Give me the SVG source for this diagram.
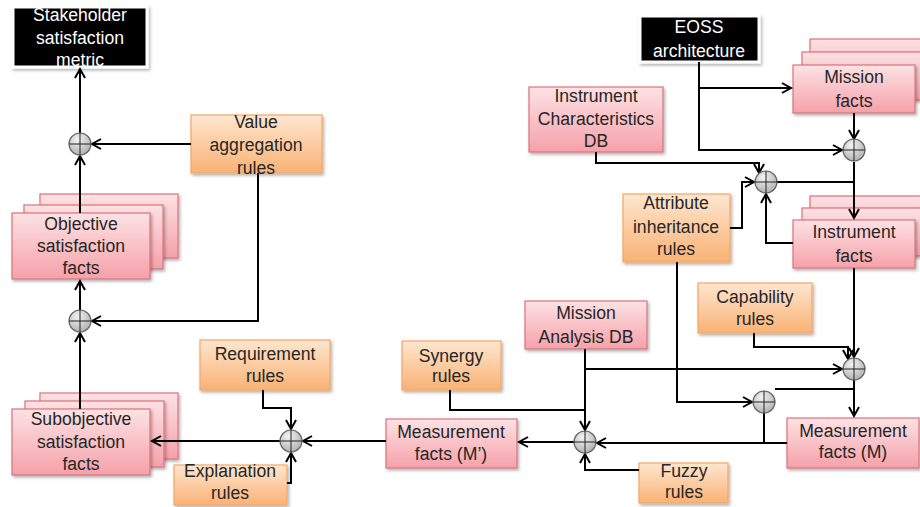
<svg xmlns="http://www.w3.org/2000/svg" width="920" height="507" viewBox="0 0 920 507">
<defs>
<linearGradient id="gp" x1="0" y1="0" x2="0" y2="1"><stop offset="0" stop-color="#fde2e4"/><stop offset="1" stop-color="#f5a1a9"/></linearGradient>
<linearGradient id="go" x1="0" y1="0" x2="0" y2="1"><stop offset="0" stop-color="#fee6cf"/><stop offset="1" stop-color="#f9b275"/></linearGradient>
<radialGradient id="gc" cx="0.4" cy="0.3" r="0.8"><stop offset="0" stop-color="#f4f4f4"/><stop offset="1" stop-color="#a8a8a8"/></radialGradient>
<filter id="sh" x="-10%" y="-10%" width="125%" height="135%"><feDropShadow dx="1.5" dy="2" stdDeviation="1.5" flood-color="#000" flood-opacity="0.3"/></filter>
<marker id="ar" markerUnits="userSpaceOnUse" markerWidth="14" markerHeight="14" refX="10" refY="6" orient="auto"><path d="M1,1 L10,6 L1,11" fill="none" stroke="#000" stroke-width="2"/></marker>
</defs>
<style>
.pk{fill:url(#gp);stroke:#d9737c;stroke-width:1.2;filter:url(#sh)}
.or{fill:url(#go);stroke:#f3a766;stroke-width:1.2;filter:url(#sh)}
.bk{fill:#000;stroke:#fff;stroke-width:3;filter:url(#sh)}
.t{font-family:"Liberation Sans",Arial,sans-serif;font-size:17.6px;fill:#262626;text-anchor:middle}
.w{fill:#fff}
.c circle{fill:url(#gc);stroke:#666;stroke-width:1.2}
.c path{stroke:#222;stroke-width:1;fill:none}
#connectors path{fill:none;stroke:#000;stroke-width:2}
.a{marker-end:url(#ar)}
</style>

<g id="stakeholder">
<rect class="bk" x="13" y="7" width="134" height="60"/>
<text class="t w" x="80" y="21">Stakeholder</text>
<text class="t w" x="80" y="44">satisfaction</text>
<text class="t w" x="80" y="66">metric</text>
</g>
<g id="value-rules">
<rect class="or" x="191" y="115" width="131" height="58"/>
<text class="t" x="256" y="128">Value</text>
<text class="t" x="256" y="151">aggregation</text>
<text class="t" x="256" y="174">rules</text>
</g>
<g id="objective">
<rect class="pk" x="40" y="194" width="138" height="64"/>
<rect class="pk" x="24" y="205" width="139" height="64"/>
<rect class="pk" x="12" y="213" width="138" height="66"/>
<text class="t" x="81" y="230">Objective</text>
<text class="t" x="81" y="252">satisfaction</text>
<text class="t" x="81" y="274">facts</text>
</g>
<g id="subobjective">
<rect class="pk" x="40" y="393" width="138" height="66"/>
<rect class="pk" x="25" y="401" width="139" height="66"/>
<rect class="pk" x="12" y="409" width="138" height="66"/>
<text class="t" x="81" y="425">Subobjective</text>
<text class="t" x="81" y="448">satisfaction</text>
<text class="t" x="81" y="470">facts</text>
</g>
<g id="requirement-rules">
<rect class="or" x="200" y="340" width="130" height="50"/>
<text class="t" x="265" y="360">Requirement</text>
<text class="t" x="265" y="382">rules</text>
</g>
<g id="explanation-rules">
<rect class="or" x="174" y="465" width="113" height="40"/>
<text class="t" x="230" y="477">Explanation</text>
<text class="t" x="230" y="499">rules</text>
</g>
<g id="measurement-mp">
<rect class="pk" x="386" y="419" width="131" height="49"/>
<text class="t" x="451" y="438">Measurement</text>
<text class="t" x="451" y="460">facts (M’)</text>
</g>
<g id="synergy-rules">
<rect class="or" x="402" y="341" width="99" height="49"/>
<text class="t" x="451" y="362">Synergy</text>
<text class="t" x="451" y="382">rules</text>
</g>
<g id="mission-analysis-db">
<rect class="pk" x="525" y="301" width="122" height="48"/>
<text class="t" x="586" y="319">Mission</text>
<text class="t" x="586" y="343">Analysis DB</text>
</g>
<g id="fuzzy-rules">
<rect class="or" x="639" y="463" width="89" height="40"/>
<text class="t" x="684" y="477">Fuzzy</text>
<text class="t" x="684" y="498">rules</text>
</g>
<g id="measurement-m">
<rect class="pk" x="787" y="418" width="132" height="50"/>
<text class="t" x="853" y="437">Measurement</text>
<text class="t" x="853" y="458">facts (M)</text>
</g>
<g id="capability-rules">
<rect class="or" x="698" y="283" width="114" height="50"/>
<text class="t" x="755" y="303">Capability</text>
<text class="t" x="755" y="325">rules</text>
</g>
<g id="attribute-rules">
<rect class="or" x="623" y="194" width="107" height="68"/>
<text class="t" x="676" y="209">Attribute</text>
<text class="t" x="676" y="233">inheritance</text>
<text class="t" x="676" y="255">rules</text>
</g>
<g id="instrument-facts">
<rect class="pk" x="810" y="196" width="130" height="48"/>
<rect class="pk" x="802" y="208" width="130" height="48"/>
<rect class="pk" x="793" y="220" width="122" height="48"/>
<text class="t" x="854" y="238">Instrument</text>
<text class="t" x="854" y="262">facts</text>
</g>
<g id="mission-facts">
<rect class="pk" x="810" y="39" width="130" height="48"/>
<rect class="pk" x="802" y="52" width="130" height="48"/>
<rect class="pk" x="793" y="65" width="122" height="48"/>
<text class="t" x="854" y="83">Mission</text>
<text class="t" x="854" y="107">facts</text>
</g>
<g id="eoss">
<rect class="bk" x="640" y="16" width="119" height="46"/>
<text class="t w" x="699" y="33">EOSS</text>
<text class="t w" x="699" y="57">architecture</text>
</g>
<g id="instrument-db">
<rect class="pk" x="529" y="87" width="134" height="65"/>
<text class="t" x="596" y="102">Instrument</text>
<text class="t" x="596" y="125">Characteristics</text>
<text class="t" x="596" y="147">DB</text>
</g>

<g id="connectors">
<path class="a" d="M80,133 L80,69"/>
<path class="a" d="M191,144 L92,144"/>
<path class="a" d="M258,173 L258,321 L92,321"/>
<path class="a" d="M80,213 L80,156"/>
<path class="a" d="M80,310 L80,281"/>
<path class="a" d="M80,409 L80,333"/>
<path class="a" d="M280,441 L152,441"/>
<path class="a" d="M263,390 L263,408 L291,408 L291,429"/>
<path class="a" d="M287,483 L291,483 L291,453"/>
<path class="a" d="M386,441 L303,441"/>
<path class="a" d="M574,442 L519,442"/>
<path class="a" d="M585,349 L585,430"/>
<path d="M450,390 L450,410 L585,410"/>
<path class="a" d="M639,470 L585,470 L585,454"/>
<path class="a" d="M787,443 L597,443"/>
<path d="M764,443 L764,413"/>
<path class="a" d="M677,262 L677,402 L752,402"/>
<path d="M775,389 L854,389"/>
<path class="a" d="M585,369 L842,369"/>
<path class="a" d="M754,333 L754,347 L848,347 L848,359"/>
<path class="a" d="M854,268 L854,357"/>
<path class="a" d="M854,380 L854,416"/>
<path class="a" d="M699,62 L699,150 L842,150"/>
<path class="a" d="M699,88 L791,88"/>
<path class="a" d="M854,113 L854,139"/>
<path class="a" d="M854,162 L854,218"/>
<path d="M777,182 L854,182"/>
<path class="a" d="M596,152 L596,163 L759,163 L759,173"/>
<path class="a" d="M730,228 L742,228 L742,182 L754,182"/>
<path class="a" d="M793,243 L766,243 L766,194"/>
</g>

<g id="sum1" class="c"><circle cx="80" cy="144" r="11"/><path d="M69,144 H91 M80,133 V155"/></g>
<g id="sum2" class="c"><circle cx="80" cy="321" r="11"/><path d="M69,321 H91 M80,310 V332"/></g>
<g id="sum3" class="c"><circle cx="291" cy="441" r="11"/><path d="M280,441 H302 M291,430 V452"/></g>
<g id="sum4" class="c"><circle cx="585" cy="442" r="11"/><path d="M574,442 H596 M585,431 V453"/></g>
<g id="sum5" class="c"><circle cx="764" cy="402" r="11"/><path d="M753,402 H775 M764,391 V413"/></g>
<g id="sum6" class="c"><circle cx="854" cy="369" r="11"/><path d="M843,369 H865 M854,358 V380"/></g>
<g id="sum7" class="c"><circle cx="766" cy="182" r="11"/><path d="M755,182 H777 M766,171 V193"/></g>
<g id="sum8" class="c"><circle cx="854" cy="150" r="11"/><path d="M843,150 H865 M854,139 V161"/></g>
</svg>
